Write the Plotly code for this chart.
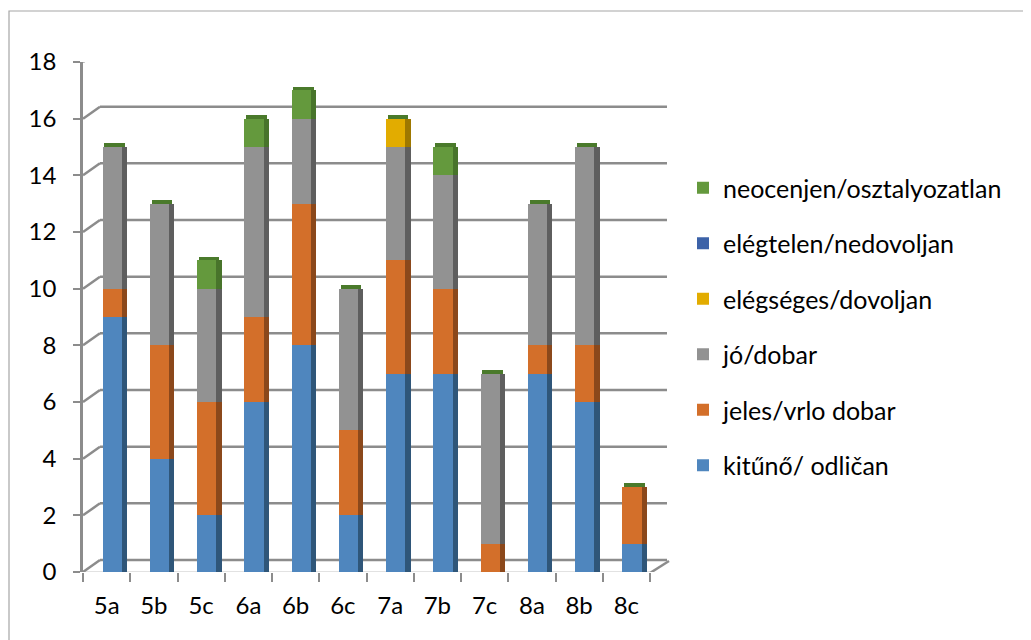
import plotly.graph_objects as go

categories = ["5a", "5b", "5c", "6a", "6b", "6c", "7a", "7b", "7c", "8a", "8b", "8c"]
kituno = [9, 4, 2, 6, 8, 2, 7, 7, 0, 7, 6, 1]
jeles = [1, 4, 4, 3, 5, 3, 4, 3, 1, 1, 2, 2]
jo = [5, 5, 4, 6, 3, 5, 4, 4, 6, 5, 7, 0]
elegseges = [0, 0, 0, 0, 0, 0, 1, 0, 0, 0, 0, 0]
elegtelen = [0, 0, 0, 0, 0, 0, 0, 0, 0, 0, 0, 0]
neocenjen = [0, 0, 1, 1, 1, 0, 0, 1, 0, 0, 0, 0]
yticks = [0, 2, 4, 6, 8, 10, 12, 14, 16, 18]

series = [
    ("kitűnő/ odličan", kituno, "#4F86BE", "#2F5679"),
    ("jeles/vrlo dobar", jeles, "#D36F2A", "#8B481B"),
    ("jó/dobar", jo, "#929292", "#5E5E5E"),
    ("elégséges/dovoljan", elegseges, "#E2AC00", "#9E7800"),
    ("elégtelen/nedovoljan", elegtelen, "#3C62A8", "#27406E"),
    ("neocenjen/osztalyozatlan", neocenjen, "#64993D", "#48742B"),
]

FONT = "Lato"
# page body has an 8px margin; compensate so the chart lands where intended
OX, OY = 8, 8
L, T, PW, PH = 83 - OX, 62 - OY, 567, 510
W, H = 1031 - OX, 640 - OY

fig = go.Figure()
base = [0] * len(categories)
n = len(series)
for i, (name, vals, col, dark) in enumerate(series):
    fig.add_trace(go.Bar(
        x=categories, y=vals, base=list(base), name=name,
        marker=dict(color=col, line=dict(width=0)),
        offset=-0.085, width=0.41, legendgroup=name, legendrank=n - i,
        hovertemplate="%{x}: %{y}<extra>" + name + "</extra>",
    ))
    fig.add_trace(go.Bar(
        x=categories, y=vals, base=list(base), showlegend=False,
        marker=dict(color=dark, line=dict(width=0)),
        offset=0.325, width=0.11, legendgroup=name, hoverinfo="skip",
    ))
    base = [b + v for b, v in zip(base, vals)]

# top caps
fig.add_trace(go.Bar(
    x=categories, y=[0.13] * len(categories), base=base, showlegend=False,
    marker=dict(color="#4A7A2B", line=dict(width=0)),
    offset=-0.05, width=0.435, hoverinfo="skip",
))

grid = "#8C8C8C"
shapes = []
for v in yticks:
    shapes.append(dict(type="line", xref="paper", yref="y", layer="below",
                       xsizemode="pixel", xanchor=0, x0=0, x1=17,
                       ysizemode="pixel", yanchor=v, y0=0, y1=12,
                       line=dict(color=grid, width=2.5)))
    shapes.append(dict(type="line", xref="paper", yref="y", layer="below",
                       x0=17 / PW, x1=(667 - 83) / PW,
                       ysizemode="pixel", yanchor=v, y0=12, y1=12,
                       line=dict(color=grid, width=2.5)))
# floor front edge and right edge
shapes.append(dict(type="line", xref="paper", yref="y", layer="below",
                   x0=0, x1=1, ysizemode="pixel", yanchor=0, y0=-1, y1=-1,
                   line=dict(color=grid, width=2.5)))
shapes.append(dict(type="line", xref="paper", yref="y", layer="below",
                   xsizemode="pixel", xanchor=1, x0=0, x1=19,
                   ysizemode="pixel", yanchor=0, y0=-1, y1=11,
                   line=dict(color=grid, width=2.5)))
# chart border
shapes.append(dict(type="rect", xref="paper", yref="paper",
                   x0=(9 - 83) / PW, x1=(1029 - 83) / PW,
                   y0=(572 - 660) / PH, y1=(572 - 11) / PH,
                   line=dict(color="#A6A6A6", width=1.2), layer="below"))

fig.update_layout(
    width=W, height=H,
    margin=dict(l=L, r=W - L - PW, t=T, b=H - T - PH, pad=0),
    barmode="overlay", bargap=0,
    plot_bgcolor="white", paper_bgcolor="white",
    font=dict(family=FONT, size=24, color="#000000"),
    shapes=shapes,
    legend=dict(
        x=(683 - 83) / PW, xanchor="left",
        y=(572 - 165) / PH, yanchor="top",
        traceorder="grouped", tracegroupgap=20,
        font=dict(family=FONT, size=25, color="#000000"),
        bgcolor="rgba(0,0,0,0)",
    ),
    xaxis=dict(
        type="category", categoryorder="array", categoryarray=categories,
        showgrid=False, showline=False, zeroline=False,
        ticks="outside", tickson="boundaries", ticklen=9, tickwidth=1.5,
        tickcolor=grid, ticklabelstandoff=17,
    ),
    yaxis=dict(
        range=[0, 18], tickvals=yticks, showgrid=False, zeroline=False,
        showline=True, linecolor=grid, linewidth=2.5,
        ticks="outside", ticklen=7, tickwidth=1.5, tickcolor=grid,
        ticklabelstandoff=12,
    ),
)

fig.write_html("out.html")
